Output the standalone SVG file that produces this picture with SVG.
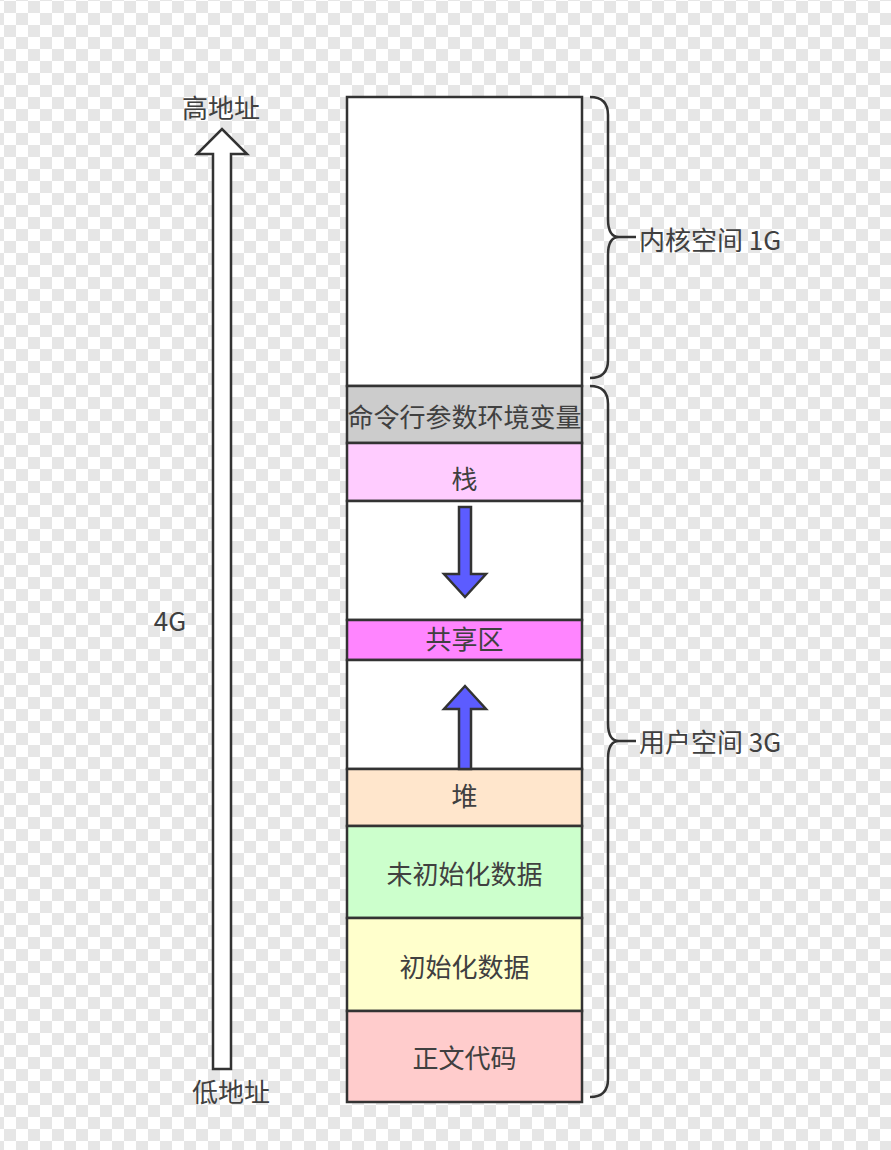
<svg xmlns="http://www.w3.org/2000/svg" width="891" height="1150" viewBox="0 0 891 1150">
<defs>
<pattern id="checker" x="4" y="1" width="24" height="24" patternUnits="userSpaceOnUse">
<rect x="0" y="0" width="24" height="24" fill="#ffffff"/>
<rect x="0" y="0" width="12" height="12" fill="#e6e6e6"/>
<rect x="12" y="12" width="12" height="12" fill="#e6e6e6"/>
</pattern>
</defs>
<style>
.box{stroke:#333333;stroke-width:2.5}
.lbl{font-family:"Noto Sans CJK SC","Liberation Sans",sans-serif;font-size:26px;fill:#404040;text-anchor:middle;dominant-baseline:central}
.brace{fill:none;stroke:#333333;stroke-width:2.5}
.blue{fill:#5c5cff;stroke:#333333;stroke-width:2.5;stroke-linejoin:miter}
</style>
<rect x="0" y="0" width="891" height="1150" fill="url(#checker)"/>

<g id="kernel"><rect class="box" x="347" y="97" width="235" height="289" fill="#ffffff"/></g>
<g id="cmdline"><rect class="box" x="347" y="386" width="235" height="57" fill="#cccccc"/><text class="lbl" x="464.5" y="415">命令行参数环境变量</text></g>
<g id="stack"><rect class="box" x="347" y="443" width="235" height="58" fill="#ffccff"/><text class="lbl" x="464.5" y="477">栈</text></g>
<g id="gap1"><rect class="box" x="347" y="501" width="235" height="119" fill="#ffffff"/></g>
<g id="shared"><rect class="box" x="347" y="620" width="235" height="40" fill="#ff85ff"/><text class="lbl" x="464.5" y="637">共享区</text></g>
<g id="gap2"><rect class="box" x="347" y="660" width="235" height="109" fill="#ffffff"/></g>
<g id="heap"><rect class="box" x="347" y="769" width="235" height="57" fill="#ffe6cc"/><text class="lbl" x="464.5" y="794">堆</text></g>
<g id="bss"><rect class="box" x="347" y="826" width="235" height="92" fill="#ccffcc"/><text class="lbl" x="464.5" y="872">未初始化数据</text></g>
<g id="data"><rect class="box" x="347" y="918" width="235" height="93" fill="#ffffcc"/><text class="lbl" x="464.5" y="965">初始化数据</text></g>
<g id="text"><rect class="box" x="347" y="1011" width="235" height="91" fill="#ffcccc"/><text class="lbl" x="464.5" y="1056">正文代码</text></g>

<g id="connectors">
<path id="addr-arrow" d="M213,1069 L213,154 L197,154 L222,129 L247,154 L231,154 L231,1069 Z" fill="#ffffff" stroke="#333333" stroke-width="2.5"/>
<path id="stack-arrow" class="blue" d="M459,507 L471,507 L471,574 L486,574 L465,597 L444,574 L459,574 Z"/>
<path id="heap-arrow" class="blue" d="M459,769 L459,709 L444,709 L465,686 L486,709 L471,709 L471,769 Z"/>
<path id="kernel-brace" class="brace" d="M590,97 Q608,97 608,115 L608,219 Q608,237 619,237 L636,237 M619,237 Q608,237 608,255 L608,360 Q608,378 590,378"/>
<path id="user-brace" class="brace" d="M590,386 Q608,386 608,404 L608,723 Q608,741 619,741 L636,741 M619,741 Q608,741 608,759 L608,1079 Q608,1097 590,1097"/>
</g>

<g id="labels">
<text class="lbl" x="221" y="106">高地址</text>
<text class="lbl" x="231" y="1090">低地址</text>
<text class="lbl" x="170" y="619">4G</text>
<text class="lbl" x="639" y="238" style="text-anchor:start">内核空间 1G</text>
<text class="lbl" x="639" y="740" style="text-anchor:start">用户空间 3G</text>
</g>
</svg>
